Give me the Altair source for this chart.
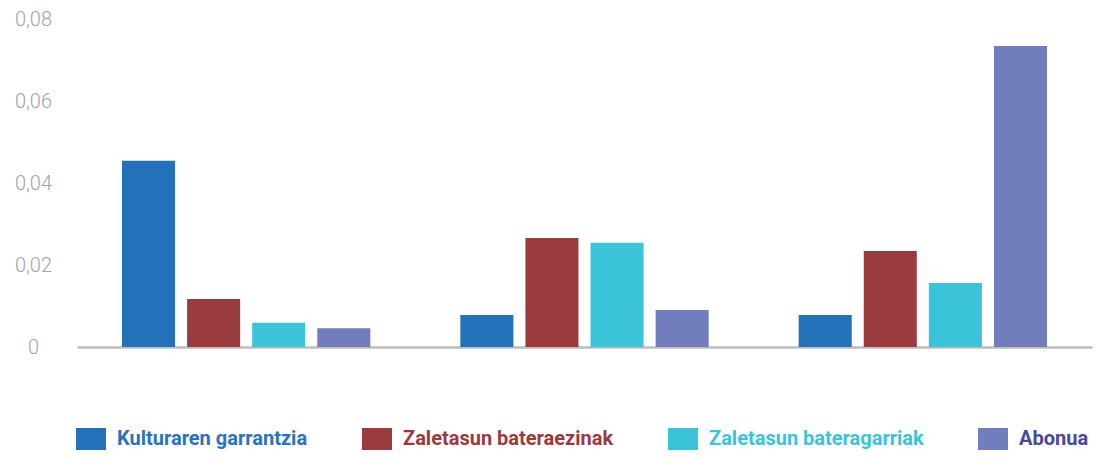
import altair as alt
import pandas as pd

groups = ["1", "2", "3"]
series = ["Kulturaren garrantzia", "Zaletasun bateraezinak", "Zaletasun bateragarriak", "Abonua"]
values = {
    "Kulturaren garrantzia": [0.0454, 0.0078, 0.0078],
    "Zaletasun bateraezinak": [0.0117, 0.0266, 0.0234],
    "Zaletasun bateragarriak": [0.0059, 0.0254, 0.0156],
    "Abonua": [0.0046, 0.0090, 0.0734],
}
bar_colors = ["#2271b9", "#9a3c3d", "#3bc3d9", "#727dbd"]
text_colors = ["#2b72c0", "#9b3a3d", "#3cc3d9", "#4a46a0"]
y_ticks = [0, 0.02, 0.04, 0.06, 0.08]

rows = []
for s in series:
    for g, v in zip(groups, values[s]):
        rows.append({"group": g, "series": s, "value": v})
df = pd.DataFrame(rows)

label_color_expr = " : ".join(
    f"datum.label == '{s}' ? '{c}'" for s, c in zip(series, text_colors)
) + " : '#333'"

chart = alt.Chart(df).mark_bar().encode(
    x=alt.X("group:N", sort=groups, title=None,
            scale=alt.Scale(paddingInner=0.266, paddingOuter=0.133),
            axis=alt.Axis(labels=False, ticks=False, domainColor="#bdbdbd",
                          domainWidth=2.5, title=None)),
    xOffset=alt.XOffset("series:N", sort=series,
                        scale=alt.Scale(paddingInner=0.185, paddingOuter=0)),
    y=alt.Y("value:Q", title=None,
            scale=alt.Scale(domain=[0, 0.08], nice=False),
            axis=alt.Axis(values=y_ticks, grid=False, domain=False, ticks=False,
                          labelAlign="center", labelPadding=44,
                          labelFont="Roboto", labelFontWeight=300,
                          labelFontSize=20, labelColor="#a3a3a3",
                          labelExpr="datum.value == 0 ? '0' : replace(format(datum.value, '.2f'), '.', ',')")),
    color=alt.Color("series:N", sort=series,
                    scale=alt.Scale(domain=series, range=bar_colors),
                    legend=alt.Legend(
                        title=None, orient="none", direction="horizontal",
                        legendX=-1, legendY=405,
                        symbolType="M-1,-0.733H1V0.733H-1Z", symbolSize=900,
                        symbolStrokeWidth=0, symbolOpacity=1,
                        labelOffset=11, columnPadding=54,
                        labelFont="Roboto", labelFontWeight="bold",
                        labelFontSize=20, labelLimit=400,
                        labelColor=alt.ExprRef(expr=label_color_expr),
                    )),
).properties(
    width=1015, height=328,
    padding={"left": 69, "top": 11, "right": 1, "bottom": 104},
    autosize=alt.AutoSizeParams(type="none"),
).configure_view(stroke=None)

chart.save("out.html", embed_options={"renderer": "svg", "actions": False})
